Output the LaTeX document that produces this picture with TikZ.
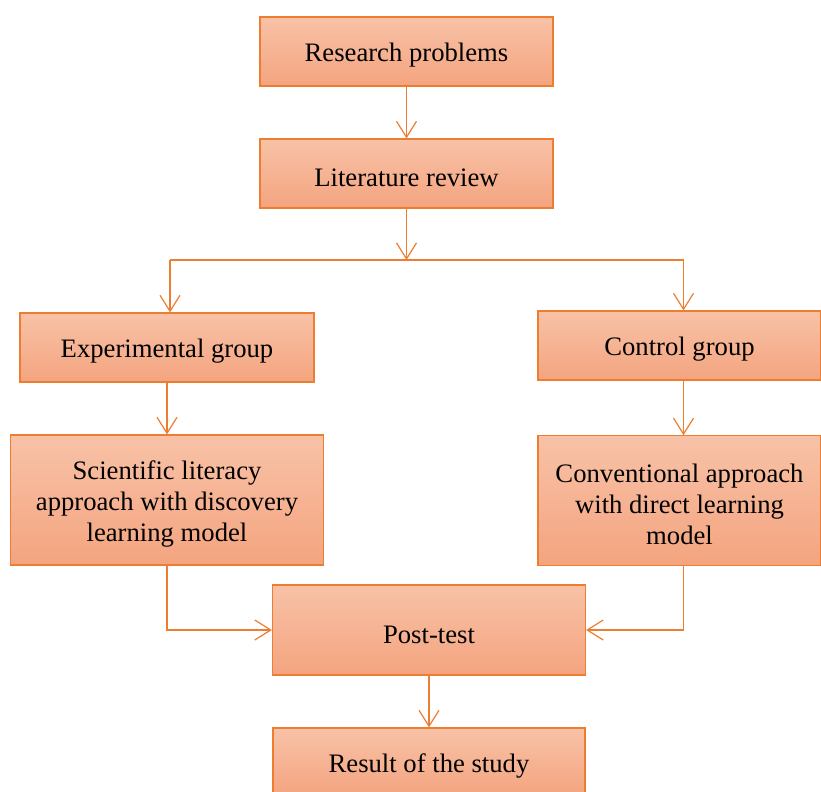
\documentclass[tikz,border=0pt]{standalone}
\usepackage{fontspec}
\setmainfont{Liberation Serif}
\usetikzlibrary{arrows.meta}
\definecolor{boxline}{HTML}{ED7D31}
\definecolor{boxtop}{HTML}{F8C2A7}
\definecolor{boxbot}{HTML}{F4A47F}
\newcommand{\toprule}{\rule{0pt}{20pt}}

\begin{document}
\begin{tikzpicture}
    [x = .75pt, y = -.75pt,
     every node/.style = {draw = boxline, line width = .9pt, top color = boxtop, bottom color = boxbot,
                          inner sep = 0pt, align = center, font = \fontsize{20}{23.25}\selectfont},
     flow/.style = {draw = boxline, line width = .9pt, -{Straight Barb[length = 12pt, width = 15pt]}}]
    \useasboundingbox (0,0) rectangle (821,792);

    \node[minimum width = 219.75pt, minimum height = 51.75pt] (rp) at (406.5,51.5) {\toprule Research problems};
    \node[minimum width = 219.75pt, minimum height = 51.75pt] (lr) at (406.5,173.5) {\toprule Literature review};
    \node[minimum width = 220.5pt, minimum height = 51.75pt] (eg) at (167,347.5) {\toprule Experimental group};
    \node[minimum width = 212.25pt, minimum height = 51.75pt] (cg) at (679.5,345.5) {\toprule Control group};
    \node[minimum width = 234.75pt, minimum height = 97.5pt] (sl) at (167,500)
      {\toprule Scientific literacy\\approach with discovery\\learning model};
    \node[minimum width = 212.25pt, minimum height = 97pt] (ca) at (679.5,500.5)
      {\toprule Conventional approach\\with direct learning\\model};
    \node[minimum width = 234.75pt, minimum height = 67.5pt] (pt) at (429,630) {\toprule Post-test};
    \node[minimum width = 234pt, minimum height = 51.75pt] (rs) at (429,762.5) {\toprule Result of the study};

    \coordinate (split) at (406.5,260);
    \coordinate (left) at (170,260);
    \coordinate (right) at (683.5,260);

    \foreach \from/ \to in {rp/lr, eg/sl, pt/rs}
      \draw[flow] (\from) -- (\to);
    \draw[flow] (lr) -- (split);
    \draw[draw = boxline, line width = .9pt] (left) -- (right);
    \draw[flow] (left) -- (left |- eg.north);
    \draw[flow] (right) -- (right |- cg.north);
    \draw[flow] (cg.south -| right) -- (ca.north -| right);
    \draw[flow] (sl.south) |- (pt.west);
    \draw[flow] (ca.south -| right) |- (pt.east);
  \end{tikzpicture}
\end{document}
